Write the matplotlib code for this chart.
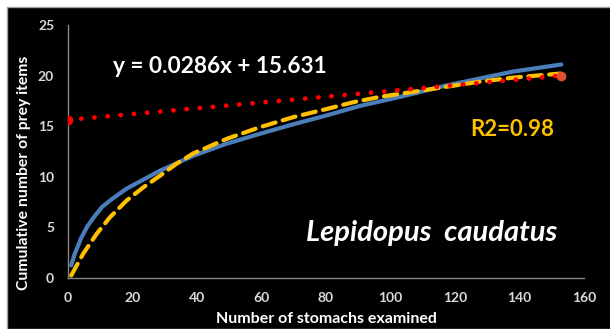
import matplotlib
matplotlib.use("Agg")
import matplotlib.pyplot as plt
from matplotlib.patches import Rectangle

plt.rcParams['font.family'] = ['Lato', 'DejaVu Sans']

# cumulative number of prey items
obs_x = [1, 2, 4, 6, 8, 10.5, 13, 18, 28.5, 39, 49, 59.5, 70, 80, 90.5, 103, 117, 138, 153]
obs_y = [1.25, 2.3, 3.9, 5.1, 6.0, 7.0, 7.65, 8.8, 10.6, 12.1, 13.25, 14.25, 15.2, 16.05, 17.0, 17.9, 19.0, 20.4, 21.1]

# fitted curve (dashed yellow)
fit_x = [1, 4.7, 8.9, 13, 18.2, 23.4, 28.5, 33.7, 38.8, 49.2, 59.5, 69.9, 80.2, 88.5, 96.7, 103, 117.4, 127.8, 138, 152.6]
fit_y = [0.25, 2.4, 4.37, 6.0, 7.66, 8.97, 10.1, 11.3, 12.3, 13.75, 14.9, 15.9, 16.7, 17.37, 17.9, 18.2, 18.9, 19.4, 19.8, 20.2]

# linear trend y = 0.0286x + 15.631
lin_x = [0, 153]
lin_y = [15.631, 20.0]

eq_text = "y = 0.0286x + 15.631"
r2_text = "R2=0.98"
species = "Lepidopus  caudatus"

fig = plt.figure(figsize=(6.1, 3.29), dpi=100, facecolor='white')
fig.patches.append(Rectangle((7/610, 0), 1, 1 - 7/329, transform=fig.transFigure,
                             facecolor='black', edgecolor='#a0a0a0', lw=1, zorder=-1))

ax = fig.add_axes([68/610, 51/329, 516/610, 253/329])
ax.set_facecolor('black')

ax.plot(obs_x, obs_y, color='#4a7ebb', lw=3, solid_capstyle='round', zorder=2)
ax.plot(fit_x, fit_y, color='#ffc000', lw=3, dashes=(3.2, 1.8), dash_capstyle='round', zorder=3)
ax.plot(lin_x, lin_y, color='#ff0000', lw=3.4, linestyle=(0, (0.05, 2.75)),
        dash_capstyle='round', zorder=4)
ax.plot(lin_x[0], lin_y[0], 'o', color='#ff0000', ms=6, zorder=5)
ax.plot(lin_x[-1], lin_y[-1], 'o', color='#e05030', ms=6, zorder=5)

ax.set_xlim(0, 160)
ax.set_ylim(0, 25)
ax.set_xticks(range(0, 161, 20))
ax.set_yticks(range(0, 26, 5))
for s in ['top', 'right']:
    ax.spines[s].set_visible(False)
for s in ['left', 'bottom']:
    ax.spines[s].set_color('#868686')
    ax.spines[s].set_linewidth(1)
ax.tick_params(length=0, colors='#d9d9d9', labelsize=10)
ax.tick_params(axis='x', pad=10)
ax.tick_params(axis='y', pad=10)
for lab in ax.get_xticklabels() + ax.get_yticklabels():
    lab.set_fontweight('bold')
ax.set_xlabel('Number of stomachs examined', color='white', fontsize=11.5,
              fontweight='bold', labelpad=6)
ax.set_ylabel('Cumulative number of prey items', color='white', fontsize=11.3,
              fontweight='bold')
ax.yaxis.set_label_coords(-0.072, 0.415)

ax.text(47, 20.85, eq_text, color='white', fontsize=16.3, fontweight='bold',
        ha='center', va='center')
ax.text(137.8, 14.65, r2_text, color='#ffc000', fontsize=16, fontweight='bold',
        ha='center', va='center')
ax.text(112.7, 4.4, species, color='white', fontsize=21, fontweight='bold',
        fontstyle='italic', ha='center', va='center')

fig.savefig('out.png', dpi=100, facecolor='white')
